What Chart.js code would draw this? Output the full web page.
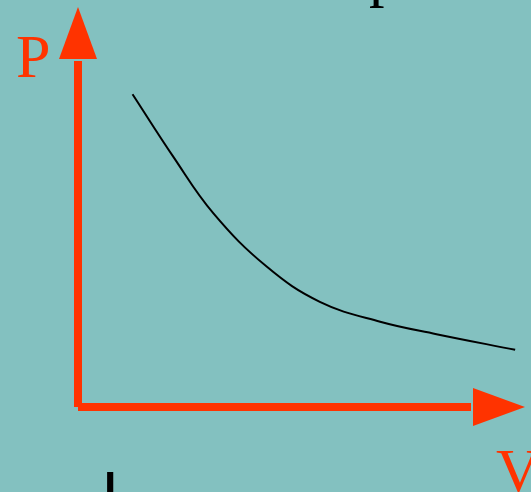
<!DOCTYPE html>
<html>
<head>
<meta charset="utf-8">
<script src="https://cdn.jsdelivr.net/npm/chart.js@4/dist/chart.umd.min.js"></script>
<style>
  html, body { margin: 0; padding: 0; background: #83c1c0; overflow: hidden; }
  canvas { display: block; }
</style>
</head>
<body>
<canvas id="pv" width="531" height="492"></canvas>
<script>
// P-V isotherm, values (arbitrary units)
const volume = [1.22, 2.13, 3.03, 4.22, 5.41, 6.76, 8.02, 9.78];
const pressure = [7.82, 6.26, 4.84, 3.51, 2.63, 2.13, 1.82, 1.43];
const axisLabels = ['P', 'V'];

const red = '#ff3300';

// draws the two red arrows and the letters, from the scales
const arrowAxes = {
  id: 'arrowAxes',
  beforeDatasetsDraw(chart) {
    const ctx = chart.ctx;
    const x = chart.scales.x, y = chart.scales.y;
    const ox = x.getPixelForValue(0), oy = y.getPixelForValue(0);
    const top = y.getPixelForValue(10), right = x.getPixelForValue(10);
    ctx.save();
    ctx.strokeStyle = red;
    ctx.fillStyle = red;
    ctx.lineWidth = 8;
    ctx.lineCap = 'butt';
    ctx.beginPath();
    ctx.moveTo(ox, oy);
    ctx.lineTo(ox, top + 54);
    ctx.moveTo(ox, oy);
    ctx.lineTo(right - 54, oy);
    ctx.stroke();

    ctx.beginPath();
    ctx.moveTo(ox, top);
    ctx.lineTo(ox - 19, top + 52);
    ctx.lineTo(ox + 19, top + 52);
    ctx.closePath();
    ctx.fill();

    ctx.beginPath();
    ctx.moveTo(right, oy);
    ctx.lineTo(right - 52, oy - 19);
    ctx.lineTo(right - 52, oy + 19);
    ctx.closePath();
    ctx.fill();

    ctx.font = '62px "Liberation Serif", "Times New Roman", serif';
    ctx.textBaseline = 'alphabetic';
    ctx.fillText(axisLabels[0], 16, 77);
    ctx.fillText(axisLabels[1], 496, 491);

    // bits of slide text cut off by the frame
    ctx.fillStyle = '#000';
    ctx.fillText('p', 369, -5);
    ctx.font = '66px "Liberation Sans", Arial, sans-serif';
    ctx.fillText('I', 101, 518);
    ctx.restore();
  }
};

new Chart(document.getElementById('pv'), {
  type: 'line',
  data: {
    datasets: [{
      data: volume.map((v, i) => ({ x: v, y: pressure[i] })),
      borderColor: '#000',
      borderWidth: 2,
      pointRadius: 0,
      tension: 0.4,
      fill: false
    }]
  },
  options: {
    responsive: false,
    animation: false,
    layout: { padding: { left: 78, right: 6, top: 7, bottom: 85 } },
    plugins: { legend: { display: false }, tooltip: { enabled: false } },
    scales: {
      x: { type: 'linear', min: 0, max: 10, display: false },
      y: { type: 'linear', min: 0, max: 10, display: false }
    }
  },
  plugins: [arrowAxes]
});
</script>
</body>
</html>
